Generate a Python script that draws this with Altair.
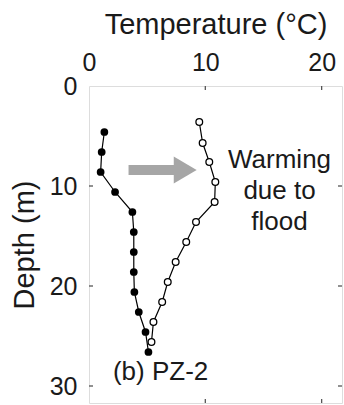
import altair as alt
import pandas as pd

# Data
depth_before = [4.6, 6.6, 8.6, 10.6, 12.6, 14.6, 16.6, 18.6, 20.6, 22.6, 24.6, 26.6]
temp_before = [1.32, 1.09, 1.0, 2.24, 3.73, 3.85, 3.85, 3.85, 3.9, 4.28, 4.86, 5.11]
depth_after = [3.6, 5.7, 7.6, 9.6, 11.6, 13.6, 15.6, 17.6, 19.6, 21.6, 23.6, 25.6]
temp_after = [9.48, 9.77, 10.34, 10.86, 10.8, 9.2, 8.36, 7.45, 6.77, 6.29, 5.54, 5.37]

x_ticks = [10, 20]
x_labels = [0, 10, 20]
y_ticks = [10, 20, 30]
y_labels = [0, 10, 20, 30]

x_domain = [0, 21.75]
y_domain = [0, 31.7]

W, H = 253, 317
FONT = "Liberation Sans"

before = pd.DataFrame({"temp": temp_before, "depth": depth_before})
after = pd.DataFrame({"temp": temp_after, "depth": depth_after})

xs = alt.Scale(domain=x_domain, nice=False, zero=False)
ys = alt.Scale(domain=y_domain, nice=False, zero=False, reverse=True)

x_enc = alt.X("temp:Q", scale=xs, axis=alt.Axis(
    orient="top", values=x_labels, title="Temperature (°C)", ticks=False, tickSize=0,
    domain=False, grid=False, labelFlush=False, labelFontSize=25, labelFont=FONT,
    labelColor="#1a1a1a", labelPadding=11, titleFont=FONT, titleFontSize=29,
    titleFontWeight="normal", titleColor="#1a1a1a", titleBaseline="alphabetic", titleY=-53))
y_enc = alt.Y("depth:Q", scale=ys, axis=alt.Axis(
    orient="left", values=y_labels, title="Depth (m)", ticks=False, tickSize=0,
    domain=False, grid=False, labelFlush=False, labelFontSize=25, labelFont=FONT,
    labelColor="#1a1a1a", labelPadding=12, titleFont=FONT, titleFontSize=29,
    titleFontWeight="normal", titleColor="#1a1a1a", titleBaseline="alphabetic",
    titleX=-56, titleAngle=270))

line_after = alt.Chart(after).mark_line(color="black", strokeWidth=1.2).encode(
    x=x_enc, y=y_enc, order="depth:Q")
line_before = alt.Chart(before).mark_line(color="black", strokeWidth=1.2).encode(
    x="temp:Q", y="depth:Q", order="depth:Q")
pts_after = alt.Chart(after).mark_point(shape="circle", filled=True, fill="white",
                                        stroke="black", strokeWidth=1.3, size=45, opacity=1).encode(
    x="temp:Q", y="depth:Q")
pts_before = alt.Chart(before).mark_point(shape="circle", filled=True, fill="black",
                                          size=60, opacity=1).encode(
    x="temp:Q", y="depth:Q")

# Arrow annotation
arrow_tail, arrow_shaft_end, arrow_head_center, arrow_depth = 3.4, 7.5, 8.27, 8.4
arrow_color = "#a6a6a6"
shaft = alt.Chart(pd.DataFrame({"a": [arrow_tail], "b": [arrow_shaft_end], "d": [arrow_depth]})).mark_rule(
    color=arrow_color, strokeWidth=10, strokeCap="butt").encode(x="a:Q", x2="b:Q", y="d:Q")
head = alt.Chart(pd.DataFrame({"a": [arrow_head_center], "d": [arrow_depth]})).mark_point(
    shape="M-0.85,-1L0.85,0L-0.85,1Z", filled=True, fill=arrow_color, size=729, opacity=1,
    strokeWidth=0).encode(x="a:Q", y="d:Q")

# Text annotations
warm_text = ["Warming", "due to", "flood"]
warm = alt.Chart(pd.DataFrame({"t": [16.38], "d": [8.2]})).mark_text(
    text=warm_text, font=FONT, fontSize=26, align="center", baseline="alphabetic",
    lineHeight=31, color="#1a1a1a").encode(x="t:Q", y="d:Q")
label = alt.Chart(pd.DataFrame({"t": [2.06], "d": [29.4]})).mark_text(
    text="(b) PZ-2", font=FONT, fontSize=26, align="left", baseline="alphabetic",
    color="#1a1a1a").encode(x="t:Q", y="d:Q")

# Inward ticks on all four sides
frame_color = "#555555"
xt = pd.DataFrame({"v": x_ticks})
yt = pd.DataFrame({"v": y_ticks})
top_ticks = alt.Chart(xt).mark_rule(color=frame_color, strokeWidth=1.3).encode(
    x="v:Q", y=alt.value(0), y2=alt.value(4))
bot_ticks = alt.Chart(xt).mark_rule(color=frame_color, strokeWidth=1.3).encode(
    x="v:Q", y=alt.value(H - 4), y2=alt.value(H))
left_ticks = alt.Chart(yt).mark_rule(color=frame_color, strokeWidth=1.3).encode(
    y="v:Q", x=alt.value(0), x2=alt.value(4))
right_ticks = alt.Chart(yt).mark_rule(color=frame_color, strokeWidth=1.3).encode(
    y="v:Q", x=alt.value(W - 4), x2=alt.value(W))

chart = alt.layer(
    line_after, line_before, shaft, head, pts_after, pts_before, warm, label,
    top_ticks, bot_ticks, left_ticks, right_ticks
).properties(
    width=W, height=H,
    autosize=alt.AutoSizeParams(type="none"),
    padding={"left": 89, "top": 86, "right": 2, "bottom": 2},
).configure_view(stroke=frame_color, strokeWidth=1.5).configure(background="white")

chart.save("out.html", embed_options={"renderer": "svg", "actions": False})
